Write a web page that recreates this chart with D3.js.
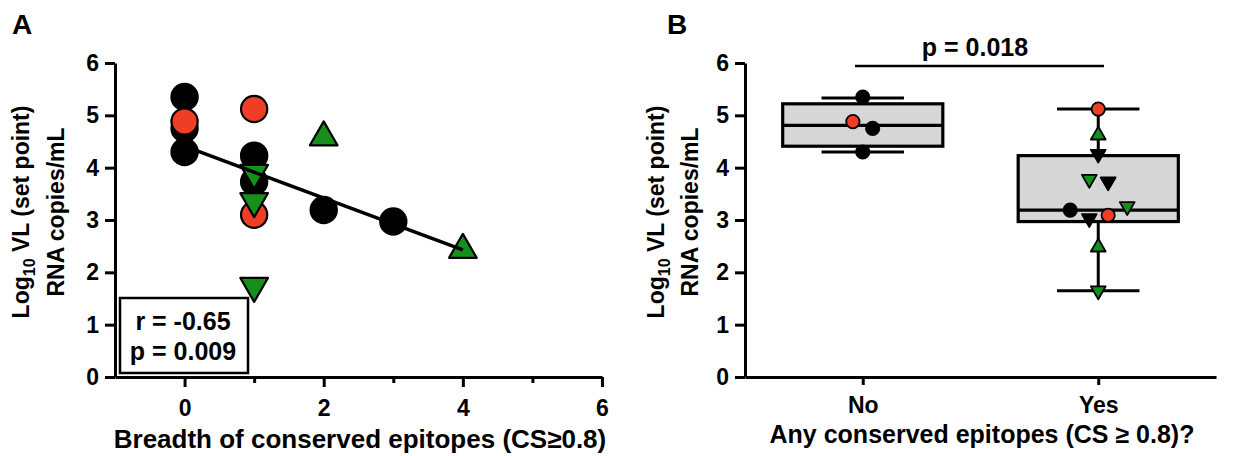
<!DOCTYPE html>
<html>
<head>
<meta charset="utf-8">
<script src="https://cdn.jsdelivr.net/npm/d3@7"></script>
<style>
  body { margin: 0; background: #fff; }
  svg { display: block; font-family: "Liberation Sans", Arial, sans-serif; font-weight: bold; }
  .axis path, .axis line { stroke: #000; stroke-width: 3; }
  .axis text { font-size: 23px; font-weight: bold; fill: #000; font-family: "Liberation Sans", Arial, sans-serif; }
</style>
</head>
<body>
<div class="chart"></div>
<script>
// --- Data ---
// Panel A: breadth of conserved epitopes vs set point VL
const breadth = [0, 0, 0, 0, 1, 1, 1, 1, 1, 1, 1, 2, 2, 3, 4];
const vlA = [5.35, 4.75, 4.88, 4.30, 5.12, 4.23, 3.90, 3.73, 3.36, 3.10, 1.74, 4.58, 3.19, 2.97, 2.43];
const markA = ["black", "black", "red", "black", "red", "black", "greenDown", "black", "greenDown", "red", "greenDown", "greenUp", "black", "black", "greenUp"];
const fitX = [0, 4];
const fitY = [4.41, 2.43];
const statsText = ["r = -0.65", "p = 0.009"];

// Panel B: any conserved epitopes (No / Yes)
const groups = ["No", "Yes"];
const boxMin = [4.30, 1.65];
const boxQ1 = [4.41, 2.97];
const boxMedian = [4.81, 3.19];
const boxQ3 = [5.22, 4.23];
const boxMax = [5.33, 5.12];
const groupB = ["No", "No", "No", "No", "Yes", "Yes", "Yes", "Yes", "Yes", "Yes", "Yes", "Yes", "Yes", "Yes", "Yes"];
const vlB = [5.35, 4.75, 4.88, 4.30, 5.12, 4.62, 4.26, 3.78, 3.73, 3.19, 3.26, 3.09, 3.03, 2.48, 1.65];
const jitterB = [0, 0.042, -0.042, 0, 0, 0, 0, -0.038, 0.042, -0.119, 0.123, 0.042, -0.038, 0, 0];
const markB = ["black", "black", "red", "black", "red", "greenUp", "blackDown", "greenDown", "blackDown", "black", "greenDown", "red", "blackDown", "greenUp", "greenDown"];
const pB = "p = 0.018";

const yTicks = [0, 1, 2, 3, 4, 5, 6];

// --- Setup ---
const width = 1252, height = 456;
const red = "#f03e26", green = "#16901b";

const svg = d3.select(".chart").append("svg")
  .attr("width", width)
  .attr("height", height);

function fillOf(t) {
  if (t.startsWith("red")) return red;
  if (t.startsWith("green")) return green;
  return "#000";
}

function shapeOf(t, size) {
  const isTri = t.endsWith("Up") || t.endsWith("Down");
  return d3.symbol().type(isTri ? d3.symbolTriangle : d3.symbolCircle).size(size)();
}

function yTitle(g, x1, x2, cy) {
  const t1 = g.append("text")
    .attr("transform", `translate(${x1},${cy}) rotate(-90)`)
    .attr("text-anchor", "middle")
    .style("font-size", "23px");
  t1.append("tspan").text("Log");
  t1.append("tspan").attr("dy", 6).style("font-size", "16px").text("10");
  t1.append("tspan").attr("dy", -6).text(" VL (set point)");
  g.append("text")
    .attr("transform", `translate(${x2},${cy}) rotate(-90)`)
    .attr("text-anchor", "middle")
    .style("font-size", "23px")
    .text("RNA copies/mL");
}

// ================= Panel A =================
const gA = svg.append("g");
const xA = d3.scaleLinear().domain([-1, 6]).range([115, 602]);
const y = d3.scaleLinear().domain([0, 6]).range([377, 63]);

gA.append("text").attr("x", 12).attr("y", 34).style("font-size", "28px").text("A");

gA.append("g").attr("class", "axis")
  .attr("transform", "translate(115,0)")
  .call(d3.axisLeft(y).tickValues(yTicks).tickSize(10).tickSizeOuter(0).tickPadding(6).tickFormat(d3.format("d")));

// minor ticks
gA.append("g").attr("class", "axis")
  .attr("transform", "translate(0,377)")
  .call(d3.axisBottom(xA).tickValues([1, 3, 5]).tickSize(6).tickSizeOuter(0).tickFormat(""))
  .select(".domain").remove();

gA.append("g").attr("class", "axis")
  .attr("transform", "translate(0,377)")
  .call(d3.axisBottom(xA).tickValues([0, 2, 4, 6]).tickSize(10).tickSizeOuter(0).tickPadding(13).tickFormat(d3.format("d")));

yTitle(gA, 29, 64, 212);

gA.append("text")
  .attr("x", 360).attr("y", 448)
  .attr("text-anchor", "middle")
  .style("font-size", "26px")
  .text("Breadth of conserved epitopes (CS\u22650.8)");

// points: black first, then red, then green
const ptsA = breadth.map((b, i) => ({ x: b, y: vlA[i], t: markA[i] }));
const order = t => t === "black" ? 0 : t === "red" ? 1 : 2;
ptsA.sort((a, b) => order(a.t) - order(b.t));

gA.selectAll(".ptA").data(ptsA).enter().append("path")
  .attr("class", "ptA")
  .attr("d", d => shapeOf(d.t, d.t.startsWith("green") ? 330 : 540))
  .attr("transform", d => `translate(${xA(d.x)},${y(d.y)}) rotate(${d.t.endsWith("Down") ? 180 : 0})`)
  .attr("fill", d => fillOf(d.t))
  .attr("stroke", "#000")
  .attr("stroke-width", 2.2)
  .attr("stroke-linejoin", "round");

// regression line
gA.append("line")
  .attr("x1", xA(fitX[0])).attr("y1", y(fitY[0]))
  .attr("x2", xA(fitX[1])).attr("y2", y(fitY[1]))
  .attr("stroke", "#000").attr("stroke-width", 3.5);

// stats box
gA.append("rect")
  .attr("x", 120).attr("y", 298).attr("width", 128).attr("height", 75)
  .attr("fill", "#fff").attr("stroke", "#000").attr("stroke-width", 2.5);
gA.selectAll(".stat").data(statsText).enter().append("text")
  .attr("class", "stat")
  .attr("x", 183).attr("y", (d, i) => 330 + i * 30)
  .attr("text-anchor", "middle")
  .style("font-size", "25px")
  .text(d => d);

// ================= Panel B =================
const gB = svg.append("g");
const xB = d3.scalePoint().domain(groups).range([745, 1216]).padding(0.5);
const step = xB.step();
const boxW = step * 0.68, capW = step * 0.35;

gB.append("text").attr("x", 667).attr("y", 34).style("font-size", "28px").text("B");

gB.append("g").attr("class", "axis")
  .attr("transform", "translate(745,0)")
  .call(d3.axisLeft(y).tickValues(yTicks).tickSize(10).tickSizeOuter(0).tickPadding(6).tickFormat(d3.format("d")));

gB.append("g").attr("class", "axis")
  .attr("transform", "translate(0,377)")
  .call(d3.axisBottom(xB).tickSize(8).tickSizeOuter(0).tickPadding(12));

yTitle(gB, 664, 698, 212);

gB.append("text")
  .attr("x", 982).attr("y", 443)
  .attr("text-anchor", "middle")
  .style("font-size", "25px")
  .text("Any conserved epitopes (CS \u2265 0.8)?");

// boxes
const boxes = groups.map((g, i) => ({ g, min: boxMin[i], q1: boxQ1[i], med: boxMedian[i], q3: boxQ3[i], max: boxMax[i] }));
const bx = gB.selectAll(".box").data(boxes).enter().append("g").attr("class", "box");

bx.append("line")
  .attr("x1", d => xB(d.g)).attr("x2", d => xB(d.g))
  .attr("y1", d => y(d.max)).attr("y2", d => y(d.min))
  .attr("stroke", "#000").attr("stroke-width", 3);
bx.append("line")
  .attr("x1", d => xB(d.g) - capW / 2).attr("x2", d => xB(d.g) + capW / 2)
  .attr("y1", d => y(d.max)).attr("y2", d => y(d.max))
  .attr("stroke", "#000").attr("stroke-width", 3);
bx.append("line")
  .attr("x1", d => xB(d.g) - capW / 2).attr("x2", d => xB(d.g) + capW / 2)
  .attr("y1", d => y(d.min)).attr("y2", d => y(d.min))
  .attr("stroke", "#000").attr("stroke-width", 3);
bx.append("rect")
  .attr("x", d => xB(d.g) - boxW / 2).attr("width", boxW)
  .attr("y", d => y(d.q3)).attr("height", d => y(d.q1) - y(d.q3))
  .attr("fill", "#d6d6d6").attr("stroke", "#000").attr("stroke-width", 3.2);
bx.append("line")
  .attr("x1", d => xB(d.g) - boxW / 2).attr("x2", d => xB(d.g) + boxW / 2)
  .attr("y1", d => y(d.med)).attr("y2", d => y(d.med))
  .attr("stroke", "#000").attr("stroke-width", 3.2);

// points
const ptsB = groupB.map((g, i) => ({ g, y: vlB[i], j: jitterB[i], t: markB[i] }));
gB.selectAll(".ptB").data(ptsB).enter().append("path")
  .attr("class", "ptB")
  .attr("d", d => shapeOf(d.t, d.t === "black" || d.t === "red" ? 140 : 95))
  .attr("transform", d => `translate(${xB(d.g) + d.j * step},${y(d.y)}) rotate(${d.t.endsWith("Down") ? 180 : 0})`)
  .attr("fill", d => fillOf(d.t))
  .attr("stroke", "#000")
  .attr("stroke-width", 1.8)
  .attr("stroke-linejoin", "round");

// significance bar
gB.append("line")
  .attr("x1", 855).attr("x2", 1104).attr("y1", 66).attr("y2", 66)
  .attr("stroke", "#000").attr("stroke-width", 2.5);
gB.append("text")
  .attr("x", 975).attr("y", 56)
  .attr("text-anchor", "middle")
  .style("font-size", "25px")
  .text(pB);
</script>
</body>
</html>
